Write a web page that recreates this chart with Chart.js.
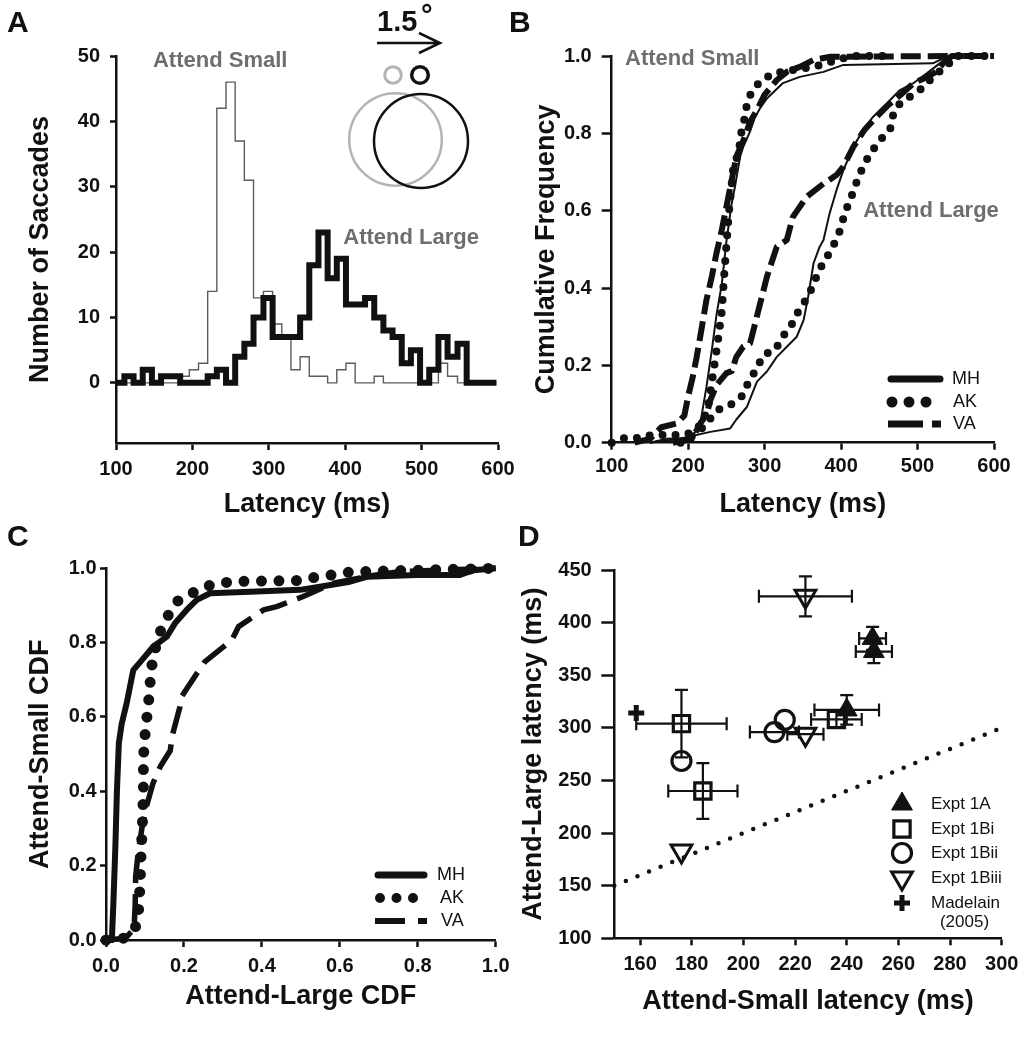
<!DOCTYPE html>
<html lang="en">
<head>
<meta charset="utf-8">
<title>Saccade latency figure</title>
<script src="https://cdn.jsdelivr.net/npm/chart.js@4.4.1/dist/chart.umd.min.js"></script>
<style>
  html, body { margin: 0; padding: 0; background: #fff; }
  #figure { position: relative; width: 1026px; height: 1050px; overflow: hidden; background: #fff;
            font-family: "Liberation Sans", Arial, sans-serif; color: #111; }
  #figure canvas { position: absolute; left: 0; top: 0; }
  .panel-tag { position: absolute; font-size: 30px; font-weight: bold; line-height: 1; }
</style>
</head>
<body>
<div id="figure">
  <canvas id="panelA" width="1026" height="1050"></canvas>
  <canvas id="panelB" width="1026" height="1050"></canvas>
  <canvas id="panelC" width="1026" height="1050"></canvas>
  <canvas id="panelD" width="1026" height="1050"></canvas>
  <div class="panel-tag" style="left:7px;top:7px">A</div>
  <div class="panel-tag" style="left:509px;top:7px">B</div>
  <div class="panel-tag" style="left:7px;top:521px">C</div>
  <div class="panel-tag" style="left:518px;top:521px">D</div>
</div>
<script>
// Panel A - latency histograms (bin start edges, last value closes the final bin)
const latencyEdges = [100, 111, 123, 135, 147, 159, 172, 184, 196, 208, 220, 232, 244, 256, 268, 280, 293, 305, 317, 329,
                      341, 353, 365, 377, 389, 401, 413, 426, 438, 450, 462, 474, 486, 498, 510, 522, 534, 547, 559, 598];
const attendSmallCounts = [0, 0, 0, 0, 0, 0, 0, 1, 2, 3, 14, 42, 46, 37, 31, 13, 14, 9, 7, 2,
                           4, 1, 1, 0, 2, 3, 0, 0, 1, 0, 0, 0, 0, 0, 0, 3, 1, 0, 0];
const attendLargeCounts = [0, 1, 0, 2, 0, 1, 1, 0, 0, 0, 1, 2, 0, 4, 6, 10, 13, 7, 7, 7,
                           10, 18, 23, 16, 19, 12, 12, 13, 10, 8, 7, 3, 5, 0, 2, 7, 4, 6, 0];
const latencyTicks = [100, 200, 300, 400, 500, 600];
const countTicks = [0, 10, 20, 30, 40, 50];

// Panel B - cumulative latency distributions, [latency ms, cumulative frequency]
const cdfSmallMH = [[150, 0], [172, 0.01], [202, 0.012], [215, 0.04], [224, 0.145], [231, 0.24], [237, 0.33], [244, 0.41],
  [250, 0.52], [257, 0.62], [261, 0.66], [268, 0.74], [272, 0.765], [281, 0.805], [287, 0.84], [294, 0.865], [303, 0.89],
  [324, 0.93], [346, 0.946], [377, 0.959], [403, 0.977], [520, 0.981], [538, 0.998], [548, 1.0]];
const cdfSmallAK = [[100, 0], [117, 0.012], [135, 0.012], [152, 0.02], [170, 0.02], [185, 0.02], [205, 0.025], [218, 0.05],
  [226, 0.09], [232, 0.17], [238, 0.25], [244, 0.34], [247, 0.43], [250, 0.51], [253, 0.59], [259, 0.71], [264, 0.74],
  [268, 0.775], [270, 0.81], [274, 0.84], [277, 0.878], [283, 0.908], [294, 0.934], [311, 0.955], [340, 0.965],
  [364, 0.972], [403, 0.994], [420, 1.0], [470, 1.0]];
const cdfSmallVA = [[130, 0], [150, 0.01], [165, 0.04], [185, 0.05], [195, 0.07], [200, 0.12], [206, 0.17], [211, 0.22],
  [218, 0.3], [224, 0.37], [231, 0.43], [237, 0.49], [244, 0.55], [250, 0.61], [255, 0.66], [263, 0.74], [272, 0.78],
  [281, 0.83], [290, 0.86], [300, 0.9], [316, 0.938], [330, 0.96], [346, 0.972], [364, 0.99], [386, 0.998], [560, 1.0]];
const cdfLargeMH = [[150, 0], [189, 0.01], [229, 0.028], [255, 0.037], [263, 0.06], [277, 0.093], [290, 0.158], [303, 0.184],
  [316, 0.222], [329, 0.248], [342, 0.274], [351, 0.317], [357, 0.378], [364, 0.464], [372, 0.507], [377, 0.524],
  [385, 0.593], [394, 0.653], [403, 0.705], [416, 0.765], [429, 0.809], [442, 0.843], [460, 0.878], [477, 0.912],
  [494, 0.929], [512, 0.955], [529, 0.981], [542, 0.998], [550, 1.0]];
const cdfLargeAK = [[190, 0], [200, 0.01], [215, 0.03], [228, 0.06], [239, 0.085], [257, 0.1], [272, 0.123], [279, 0.158],
  [290, 0.192], [298, 0.227], [314, 0.24], [322, 0.27], [335, 0.304], [344, 0.339], [355, 0.373], [364, 0.408],
  [370, 0.442], [380, 0.475], [390, 0.51], [398, 0.546], [403, 0.58], [409, 0.615], [416, 0.649], [422, 0.684],
  [431, 0.723], [440, 0.753], [451, 0.783], [464, 0.809], [468, 0.847], [477, 0.878], [490, 0.895], [503, 0.912],
  [525, 0.955], [538, 0.972], [548, 1.0], [599, 1.0]];
const cdfLargeVA = [[180, 0], [205, 0.01], [216, 0.05], [224, 0.072], [229, 0.11], [237, 0.149], [250, 0.18], [257, 0.185],
  [263, 0.222], [272, 0.248], [281, 0.257], [292, 0.343], [303, 0.429], [316, 0.507], [329, 0.524], [337, 0.584],
  [355, 0.636], [377, 0.67], [394, 0.692], [403, 0.714], [416, 0.765], [431, 0.81], [445, 0.84], [460, 0.87],
  [478, 0.9], [495, 0.93], [512, 0.945], [525, 0.96], [535, 0.985], [545, 1.0], [600, 1.0]];
const fractionTicks = [0, 0.2, 0.4, 0.6, 0.8, 1.0];

// Panel C - attend-small CDF against attend-large CDF, [large, small]
const ppMH = [[0, 0], [0.015, 0], [0.019, 0.1], [0.024, 0.25], [0.028, 0.4], [0.033, 0.53], [0.04, 0.58], [0.053, 0.637],
  [0.07, 0.726], [0.092, 0.753], [0.121, 0.789], [0.156, 0.816], [0.177, 0.852], [0.207, 0.888], [0.233, 0.915],
  [0.267, 0.933], [0.37, 0.937], [0.498, 0.942], [0.541, 0.949], [0.626, 0.964], [0.669, 0.977], [0.797, 0.982],
  [0.908, 0.982], [0.943, 0.995], [1.0, 1.0]];
const ppAK = [[0, 0], [0.045, 0.005], [0.074, 0.027], [0.083, 0.072], [0.087, 0.14], [0.09, 0.23], [0.093, 0.3],
  [0.096, 0.4], [0.096, 0.49], [0.1, 0.55], [0.104, 0.59], [0.109, 0.637], [0.113, 0.69], [0.117, 0.735], [0.128, 0.79],
  [0.139, 0.829], [0.16, 0.874], [0.181, 0.91], [0.22, 0.933], [0.263, 0.953], [0.31, 0.962], [0.35, 0.965],
  [0.49, 0.967], [0.532, 0.975], [0.579, 0.982], [0.626, 0.99], [0.8, 0.995], [1.0, 1.0]];
const ppVA = [[0, 0], [0.05, 0.005], [0.072, 0.03], [0.075, 0.1], [0.076, 0.17], [0.082, 0.23], [0.092, 0.3],
  [0.104, 0.36], [0.12, 0.42], [0.139, 0.466], [0.165, 0.51], [0.17, 0.55], [0.19, 0.628], [0.194, 0.655],
  [0.233, 0.717], [0.254, 0.749], [0.323, 0.807], [0.34, 0.843], [0.404, 0.888], [0.438, 0.897], [0.506, 0.924],
  [0.583, 0.96], [0.68, 0.98], [0.754, 0.991], [0.85, 0.995], [1.0, 1.0]];

// Panel D - mean latencies per condition (ms) with +/- error
const expt1ASmall = [250, 250.5, 240];
const expt1ALarge = [385, 372.5, 317];
const expt1ASmallErr = [5.2, 7, 12.5];
const expt1ALargeErr = [11, 11, 14];
const expt1BiSmall = [176, 184.3, 236];
const expt1BiLarge = [304, 240, 308];
const expt1BiSmallErr = [17.5, 13.4, 9.8];
const expt1BiLargeErr = [32, 26.5, 8];
const expt1BiiSmall = [176, 212, 216];
const expt1BiiLarge = [268.5, 296, 307.5];
const expt1BiiSmallErr = [0, 9.5, 0];
const expt1BiiLargeErr = [0, 0, 0];
const expt1BiiiSmall = [176, 224, 224];
const expt1BiiiLarge = [183, 425, 294];
const expt1BiiiSmallErr = [0, 18, 7];
const expt1BiiiLargeErr = [0, 19, 0];
const madelainSmall = [158.5];
const madelainLarge = [314];
const unityLine = [150, 300];
const smallLatencyTicks = [160, 180, 200, 220, 240, 260, 280, 300];
const largeLatencyTicks = [100, 150, 200, 250, 300, 350, 400, 450];

(function() {
    'use strict';

    const INK = '#111111';
    const NOTE = '#6e6e6e';
    const FONT = '"Liberation Sans", Arial, sans-serif';

    Chart.defaults.font.family = FONT;
    Chart.defaults.color = INK;

    const pts = (xs, ys) => xs.map((x, i) => ({ x: x, y: ys[i] }));

    function scaleOpts(o) {
        return {
            type: 'linear',
            min: o.min,
            max: o.max,
            afterBuildTicks: s => { s.ticks = o.ticks.map(v => ({ value: v })); },
            afterFit: s => { if (s.isHorizontal()) s.height = o.size; else s.width = o.size; },
            border: { display: true, color: INK, width: 2.5 },
            grid: { drawOnChartArea: false, drawTicks: true, tickLength: o.tickLength, tickWidth: 2.5, tickColor: INK },
            ticks: {
                font: { size: 20, weight: 'bold' },
                color: INK,
                padding: o.pad,
                callback: o.format || (v => String(v))
            },
            title: { display: true, text: o.title, font: { size: 27, weight: 'bold' }, color: INK, padding: o.titlePad }
        };
    }

    function baseOptions(padding, x, y) {
        return {
            responsive: false,
            devicePixelRatio: 1,
            animation: false,
            events: [],
            layout: { padding: padding },
            plugins: { legend: { display: false }, tooltip: { enabled: false } },
            scales: { x: scaleOpts(x), y: scaleOpts(y) }
        };
    }

    function lineSet(data, style) {
        return Object.assign({
            data: data, showLine: true, pointRadius: 0, borderColor: INK, backgroundColor: INK,
            fill: false, clip: false, tension: 0, borderJoinStyle: 'round'
        }, style);
    }

    // gray in-plot labels placed in data units
    function notesPlugin(items) {
        return {
            id: 'notes',
            afterDatasetsDraw(chart) {
                const { ctx, scales } = chart;
                ctx.save();
                ctx.font = 'bold 22px ' + FONT;
                ctx.fillStyle = NOTE;
                ctx.textAlign = 'left';
                ctx.textBaseline = 'middle';
                items.forEach(n => ctx.fillText(n.text, scales.x.getPixelForValue(n.x), scales.y.getPixelForValue(n.y)));
                ctx.restore();
            }
        };
    }

    // line-style key (MH / AK / VA)
    function keyLinesPlugin(items) {
        return {
            id: 'keyLines',
            afterDatasetsDraw(chart) {
                const ctx = chart.ctx;
                items.forEach(it => {
                    ctx.save();
                    ctx.strokeStyle = INK;
                    ctx.lineWidth = it.width;
                    ctx.lineCap = it.cap || 'butt';
                    ctx.setLineDash(it.dash || []);
                    ctx.beginPath();
                    ctx.moveTo(it.x0, it.y);
                    ctx.lineTo(it.x1, it.y);
                    ctx.stroke();
                    ctx.setLineDash([]);
                    ctx.fillStyle = INK;
                    ctx.font = '18px ' + FONT;
                    ctx.textAlign = 'left';
                    ctx.textBaseline = 'middle';
                    ctx.fillText(it.label, it.tx, it.y);
                    ctx.restore();
                });
            }
        };
    }

    // stimulus sketch in panel A
    const insetPlugin = {
        id: 'inset',
        afterDraw(chart) {
            const ctx = chart.ctx;
            ctx.save();
            ctx.fillStyle = INK;
            ctx.font = 'bold 29px ' + FONT;
            ctx.textBaseline = 'alphabetic';
            ctx.fillText('1.5', 377, 31);
            ctx.fillText('\u00b0', 421, 25);
            ctx.strokeStyle = INK;
            ctx.lineWidth = 2.5;
            ctx.beginPath();
            ctx.moveTo(377, 43); ctx.lineTo(440, 43);
            ctx.moveTo(419, 33); ctx.lineTo(440, 43); ctx.lineTo(419, 53);
            ctx.stroke();
            const ring = (cx, cy, r, color, w) => {
                ctx.beginPath();
                ctx.strokeStyle = color;
                ctx.lineWidth = w;
                ctx.arc(cx, cy, r, 0, Math.PI * 2);
                ctx.stroke();
            };
            ring(393, 75, 8.3, '#b4b4b4', 3);
            ring(420, 75, 8.3, INK, 3.5);
            ring(395.5, 139.5, 46.3, '#b4b4b4', 2.5);
            ring(421, 141, 47, INK, 2.5);
            ctx.restore();
        }
    };

    // x / y error bars from the dataset's xErr / yErr arrays
    const errorBarPlugin = {
        id: 'errorBars',
        beforeDatasetsDraw(chart) {
            const { ctx, scales: { x, y } } = chart;
            const cap = 6.5;
            ctx.save();
            ctx.strokeStyle = INK;
            ctx.lineWidth = 2.2;
            chart.data.datasets.forEach(ds => {
                if (!ds.xErr) return;
                ds.data.forEach((p, i) => {
                    const px = x.getPixelForValue(p.x);
                    const py = y.getPixelForValue(p.y);
                    ctx.beginPath();
                    if (ds.xErr[i] > 0) {
                        const l = x.getPixelForValue(p.x - ds.xErr[i]);
                        const r = x.getPixelForValue(p.x + ds.xErr[i]);
                        ctx.moveTo(l, py); ctx.lineTo(r, py);
                        ctx.moveTo(l, py - cap); ctx.lineTo(l, py + cap);
                        ctx.moveTo(r, py - cap); ctx.lineTo(r, py + cap);
                    }
                    if (ds.yErr[i] > 0) {
                        const t = y.getPixelForValue(p.y + ds.yErr[i]);
                        const b = y.getPixelForValue(p.y - ds.yErr[i]);
                        ctx.moveTo(px, t); ctx.lineTo(px, b);
                        ctx.moveTo(px - cap, t); ctx.lineTo(px + cap, t);
                        ctx.moveTo(px - cap, b); ctx.lineTo(px + cap, b);
                    }
                    ctx.stroke();
                });
            });
            ctx.restore();
        }
    };

    // marker key for panel D, reusing each dataset's point style
    const markerKeyPlugin = {
        id: 'markerKey',
        afterDatasetsDraw(chart) {
            const ctx = chart.ctx;
            const rows = [804, 829, 853, 878, 903];
            ctx.save();
            chart.data.datasets.filter(ds => ds.keyLabel).forEach((ds, i) => {
                ctx.fillStyle = ds.backgroundColor;
                ctx.strokeStyle = INK;
                ctx.lineWidth = ds.borderWidth;
                Chart.helpers.drawPoint(ctx, {
                    pointStyle: ds.pointStyle, rotation: ds.rotation || 0,
                    radius: ds.pointRadius, borderWidth: ds.borderWidth
                }, 902, rows[i]);
                ctx.fillStyle = INK;
                ctx.font = '17px ' + FONT;
                ctx.textAlign = 'left';
                ctx.textBaseline = 'middle';
                ctx.fillText(ds.keyLabel, 931, rows[i]);
            });
            ctx.textAlign = 'center';
            ctx.fillText('(2005)', 964.5, 922);
            ctx.restore();
        }
    };

    const histPoints = counts => latencyEdges.map((x, i) => ({ x: x, y: counts[Math.min(i, counts.length - 1)] }));
    const fmtFraction = v => v.toFixed(1);

    // Panel A
    new Chart(document.getElementById('panelA'), {
        type: 'scatter',
        data: {
            datasets: [
                lineSet(histPoints(attendLargeCounts), { stepped: true, borderWidth: 6, borderJoinStyle: 'miter' }),
                lineSet(histPoints(attendSmallCounts), { stepped: true, borderWidth: 1.4, borderColor: '#5c5c5c', borderJoinStyle: 'miter' })
            ]
        },
        options: baseOptions(
            { left: 0, top: 56, right: 528, bottom: 527 },
            { min: 100, max: 600, ticks: latencyTicks, size: 80, tickLength: 7, pad: 7.5,
              title: 'Latency (ms)', titlePad: { top: 0, bottom: 1.8 } },
            { min: -9.2, max: 50, ticks: countTicks, size: 116, tickLength: 6, pad: 10,
              title: 'Number of Saccades', titlePad: { top: 24.8, bottom: 0 } }
        ),
        plugins: [notesPlugin([
            { text: 'Attend Small', x: 148.4, y: 49.2 },
            { text: 'Attend Large', x: 397.5, y: 22.2 }
        ]), insetPlugin]
    });

    // Panel B
    const bMH = { borderWidth: 2 };
    const bAK = { borderWidth: 8, borderDash: [0, 13], borderCapStyle: 'round' };
    const bVA = { borderWidth: 6, borderDash: [20, 7] };
    new Chart(document.getElementById('panelB'), {
        type: 'scatter',
        data: {
            datasets: [
                lineSet(cdfSmallMH, bMH), lineSet(cdfSmallAK, bAK), lineSet(cdfSmallVA, bVA),
                lineSet(cdfLargeMH, bMH), lineSet(cdfLargeAK, bAK), lineSet(cdfLargeVA, bVA)
            ]
        },
        options: baseOptions(
            { left: 520, top: 56, right: 32, bottom: 527.3 },
            { min: 100, max: 600, ticks: latencyTicks, size: 80, tickLength: 7, pad: 4.4,
              title: 'Latency (ms)', titlePad: { top: 0, bottom: 1.8 } },
            { min: 0, max: 1, ticks: fractionTicks, size: 91.7, tickLength: 10, pad: 10, format: fmtFraction,
              title: 'Cumulative Frequency', titlePad: { top: 10.8, bottom: 0 } }
        ),
        plugins: [notesPlugin([
            { text: 'Attend Small', x: 117.4, y: 0.992 },
            { text: 'Attend Large', x: 428.9, y: 0.6 }
        ]), keyLinesPlugin([
            { label: 'MH', x0: 891, x1: 940, y: 379, width: 7, cap: 'round', tx: 952 },
            { label: 'AK', x0: 892, x1: 927, y: 402, width: 11, cap: 'round', dash: [0, 17], tx: 953 },
            { label: 'VA', x0: 888, x1: 941, y: 424, width: 7, dash: [35, 9], tx: 953 }
        ])]
    });

    // Panel C
    new Chart(document.getElementById('panelC'), {
        type: 'scatter',
        data: {
            datasets: [
                lineSet(ppMH, { borderWidth: 6 }),
                lineSet(ppAK, { borderWidth: 11, borderDash: [0, 17.5], borderCapStyle: 'round' }),
                lineSet(ppVA, { borderWidth: 5.5, borderDash: [28, 11] })
            ]
        },
        options: baseOptions(
            { left: 0, top: 568.3, right: 530.3, bottom: 30 },
            { min: 0, max: 1, ticks: fractionTicks, size: 80, tickLength: 7, pad: 7, format: fmtFraction,
              title: 'Attend-Large CDF', titlePad: { top: 0, bottom: 6.8 } },
            { min: 0, max: 1, ticks: fractionTicks, size: 106, tickLength: 6, pad: 3.5, format: fmtFraction,
              title: 'Attend-Small CDF', titlePad: { top: 24.8, bottom: 0 } }
        ),
        plugins: [keyLinesPlugin([
            { label: 'MH', x0: 378, x1: 424, y: 875, width: 7, cap: 'round', tx: 437 },
            { label: 'AK', x0: 380, x1: 414, y: 898, width: 10, cap: 'round', dash: [0, 16.5], tx: 440 },
            { label: 'VA', x0: 375, x1: 427, y: 921, width: 6, dash: [30, 13], tx: 441 }
        ])]
    });

    // Panel D
    const markerSet = (label, xs, ys, xErr, yErr, style) => Object.assign({
        keyLabel: label, data: pts(xs, ys), xErr: xErr, yErr: yErr, showLine: false, clip: false,
        borderColor: INK, backgroundColor: 'rgba(0,0,0,0)'
    }, style);

    new Chart(document.getElementById('panelD'), {
        type: 'scatter',
        data: {
            datasets: [
                markerSet('Expt 1A', expt1ASmall, expt1ALarge, expt1ASmallErr, expt1ALargeErr,
                    { pointStyle: 'triangle', pointRadius: 12, borderWidth: 1, backgroundColor: INK }),
                markerSet('Expt 1Bi', expt1BiSmall, expt1BiLarge, expt1BiSmallErr, expt1BiLargeErr,
                    { pointStyle: 'rect', pointRadius: 11.5, borderWidth: 3.2 }),
                markerSet('Expt 1Bii', expt1BiiSmall, expt1BiiLarge, expt1BiiSmallErr, expt1BiiLargeErr,
                    { pointStyle: 'circle', pointRadius: 9.5, borderWidth: 3.2 }),
                markerSet('Expt 1Biii', expt1BiiiSmall, expt1BiiiLarge, expt1BiiiSmallErr, expt1BiiiLargeErr,
                    { pointStyle: 'triangle', rotation: 180, pointRotation: 180, pointRadius: 12, borderWidth: 3 }),
                markerSet('Madelain', madelainSmall, madelainLarge, [0], [0],
                    { pointStyle: 'cross', pointRadius: 8, borderWidth: 5 }),
                lineSet(pts(unityLine, unityLine), { borderWidth: 4.5, borderDash: [0, 12.5], borderCapStyle: 'round' })
            ]
        },
        options: baseOptions(
            { left: 510, top: 570, right: 24.3, bottom: 31.7 },
            { min: 150, max: 300, ticks: smallLatencyTicks, size: 80, tickLength: 7, pad: 6.7,
              title: 'Attend-Small latency (ms)', titlePad: { top: 0, bottom: 0.6 } },
            { min: 100, max: 450, ticks: largeLatencyTicks, size: 104.3, tickLength: 13, pad: 9.6,
              title: 'Attend-Large latency (ms)', titlePad: { top: 7.8, bottom: 0 } }
        ),
        plugins: [errorBarPlugin, markerKeyPlugin]
    });
})();
</script>
</body>
</html>
